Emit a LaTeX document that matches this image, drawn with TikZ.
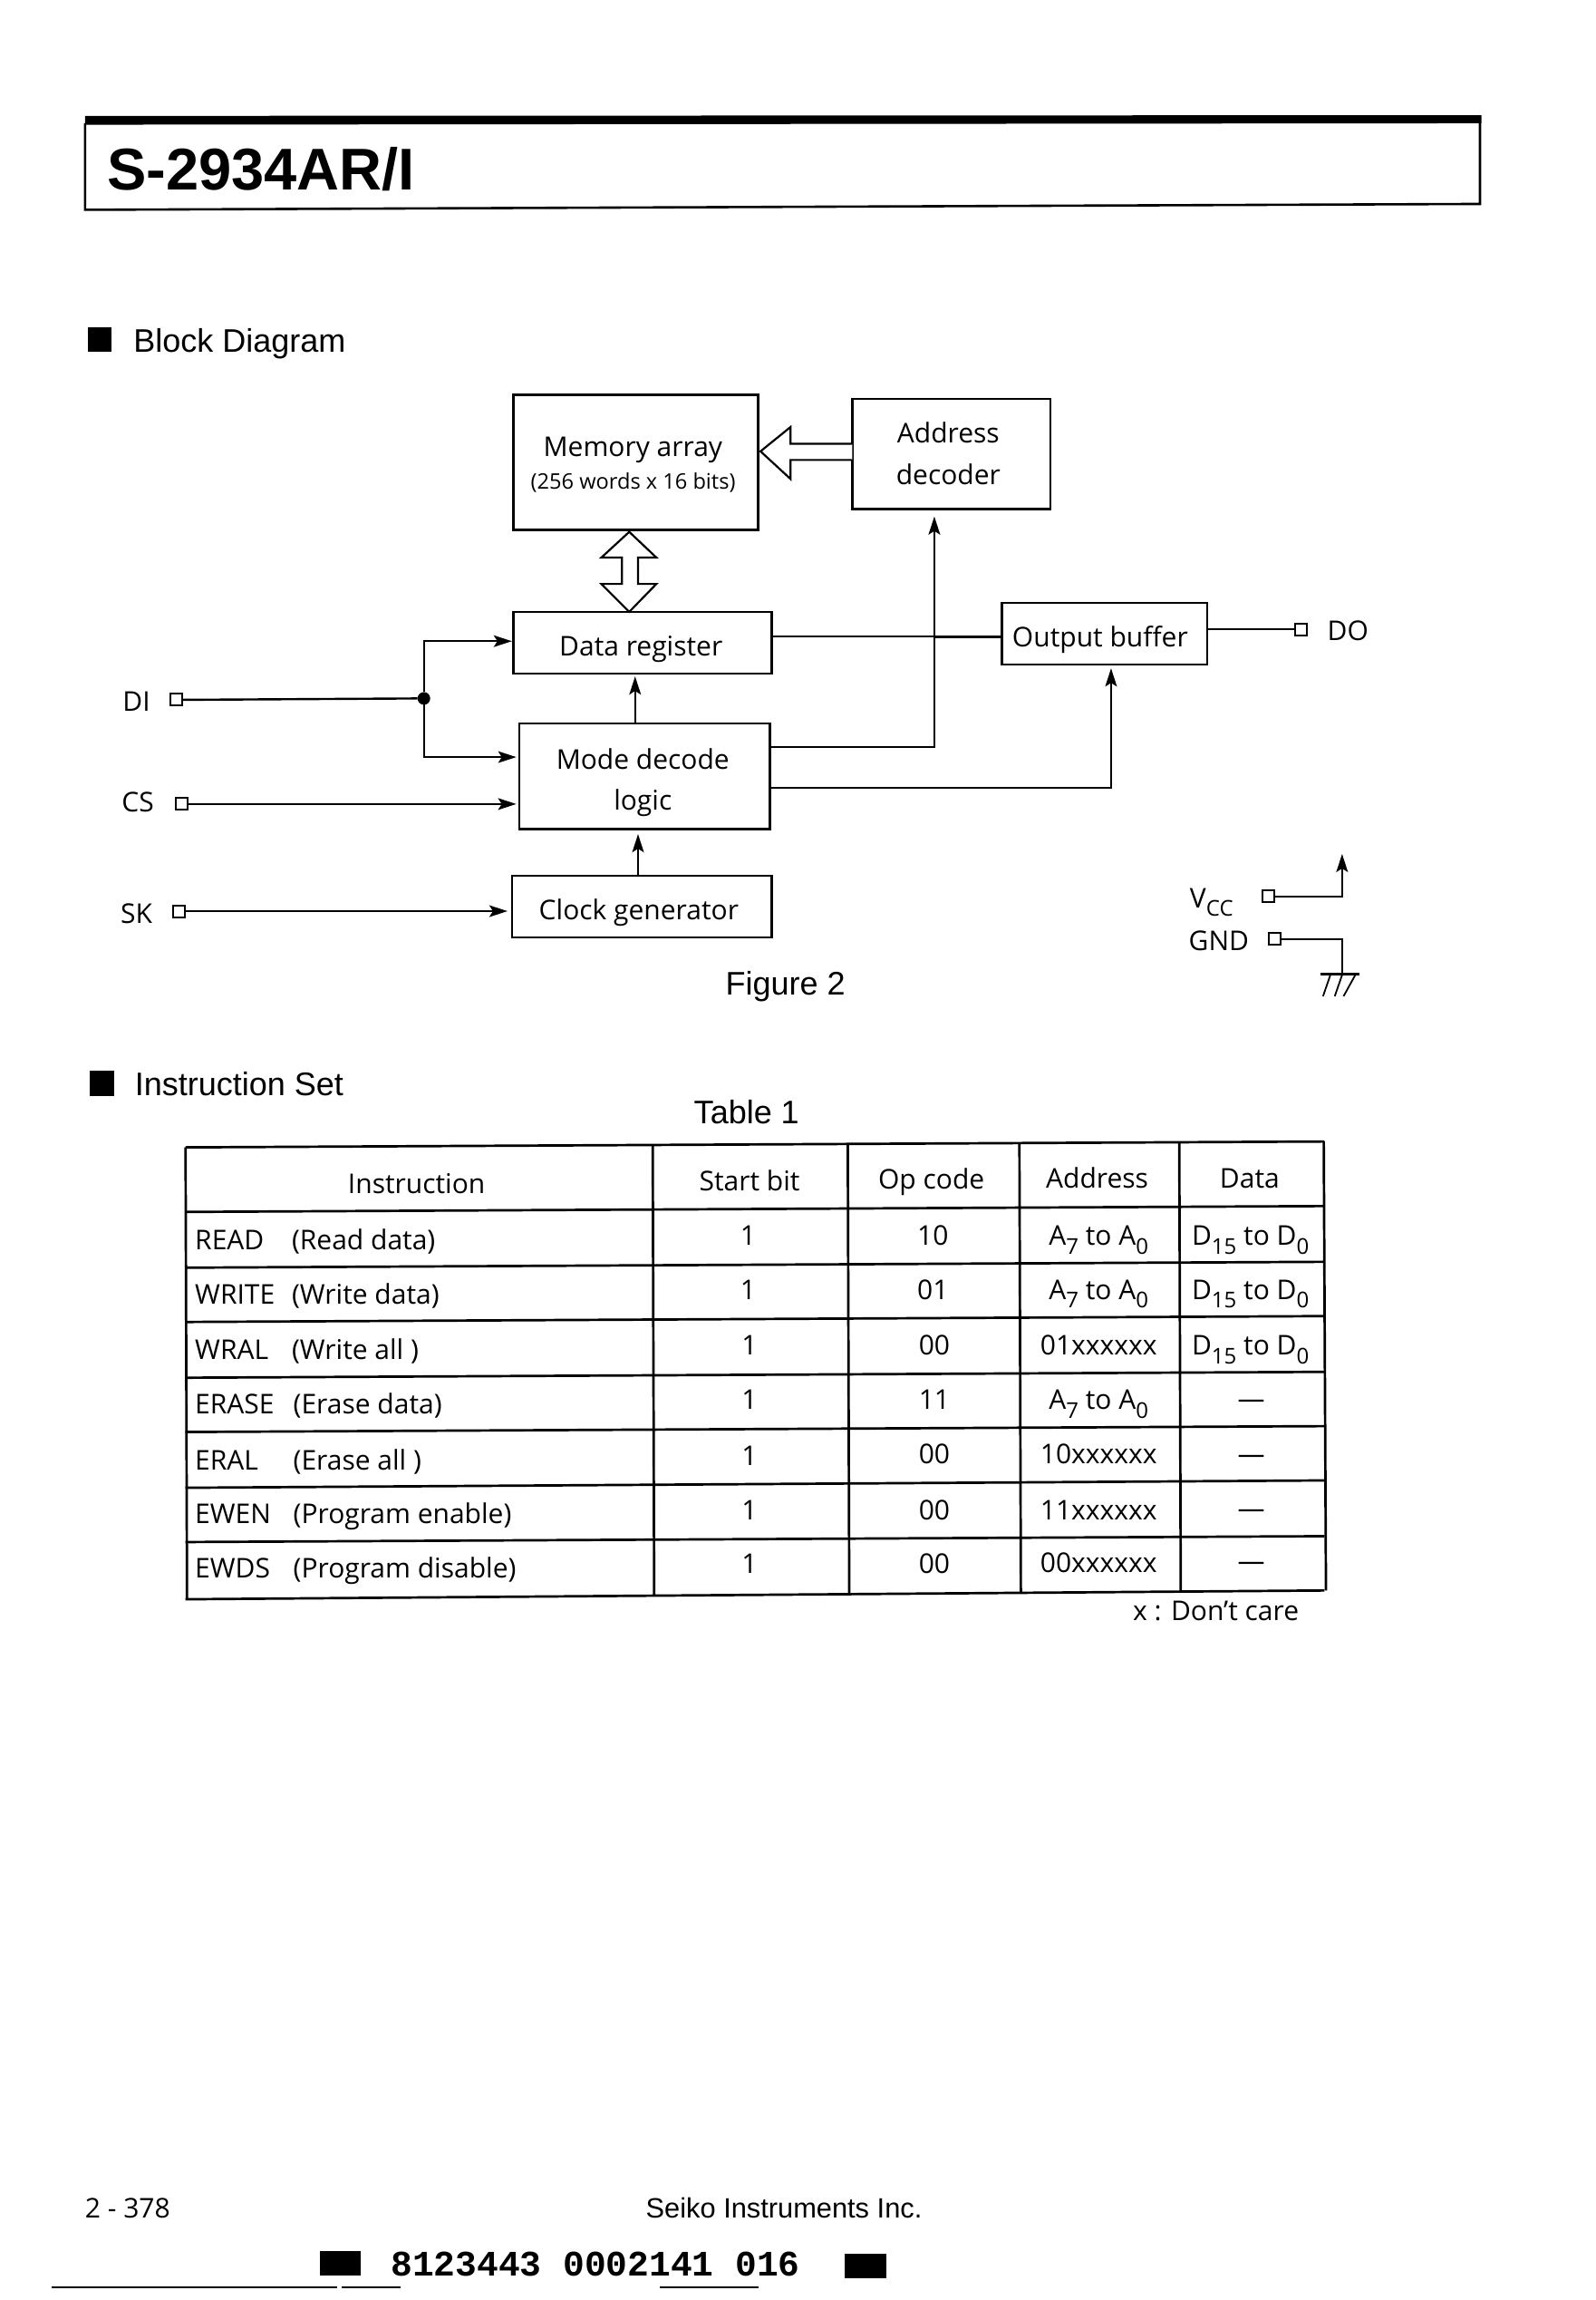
\documentclass[tikz,border=0pt]{standalone}
\usepackage{fontspec}
\setmainfont{Open Sans}
\newfontfamily\helv{Liberation Sans}
\newfontfamily\barfont{Liberation Mono}
\usetikzlibrary{arrows.meta}
\newdimen\uu \uu=0.8092pt
\newcommand{\sbs}[1]{\raisebox{-0.32em}{\fontsize{12}{12}\selectfont #1}}
\newcommand{\mv}[3]{\makebox[0pt]{\hspace*{#1}\raisebox{#2}[0pt][0pt]{#3}}}
\tikzset{
  x=0.8092pt,y=-0.8092pt,
  wire/.style={line width=1.2pt,black},
  thinwire/.style={line width=0.9pt,black},
  arr/.style={wire,-{Stealth[length=10pt,width=6.4pt,inset=2pt]}},
  thinarr/.style={thinwire,-{Stealth[length=10pt,width=6.4pt,inset=2pt]}},
  blk/.style={draw,line width=1.25pt,inner sep=0pt,outer sep=0pt,font=\fontsize{15}{23}\selectfont},
  pinbox/.style={draw,fill=white,line width=1pt,inner sep=0pt,outer sep=0pt,minimum size=6.5pt},
  lbl/.style={inner sep=0pt,outer sep=0pt,font=\fontsize{15}{18}\selectfont,text height=10.7pt,text depth=0pt},
  lft/.style={lbl,anchor=west},
  headtxt/.style={inner sep=0pt,outer sep=0pt,anchor=west,font=\helv\fontsize{18}{20}\selectfont,text height=12.9pt,text depth=0pt},
  hollow/.style={draw,line width=1.1pt,fill=white,line join=miter},
  tabline/.style={line width=1.35pt,black},
  sq/.style={fill=black,draw=none}
}
\begin{document}
\begin{tikzpicture}
\useasboundingbox (0,0) rectangle (1087.5,1567.6);
% header
\fill (58,79) -- (1010,78.5) -- (1010,84) -- (58,85) -- cycle;
\draw[line width=1.3pt] (58,84) -- (58,143) -- (1009,139) -- (1009,84);
\node[inner sep=0pt,outer sep=0pt,anchor=west,font=\helv\bfseries\fontsize{32.5}{36}\selectfont] (title) at (73,115) {S-2934AR/I};
% section marks
\fill[sq] (60,223) rectangle (76,240);
\node[headtxt] (hblock) at (91,232) {Block Diagram};
\fill[sq] (61,730) rectangle (78,747);
\node[headtxt] (hinstr) at (92,739) {Instruction Set};
\node[headtxt,anchor=center] (tabcap) at (509,758) {Table 1};
\node[headtxt,anchor=center] (figcap) at (535.5,670) {Figure 2};
% blocks
\node[blk,minimum width=167\uu,minimum height=92\uu] (mem) at (433.5,315) {\mv{-3.2pt}{3.2pt}{Memory array}\mv{-3pt}{-15pt}{\fontsize{11.8}{14}\selectfont (256 words x 16 bits)}};
\node[blk,minimum width=135\uu,minimum height=75\uu] (adec) at (648.5,309.5) {\mv{-3.2pt}{6pt}{Address}\mv{-3.2pt}{-16.66pt}{decoder}};
\node[blk,minimum width=176\uu,minimum height=42\uu] (dreg) at (438,438) {\mv{-1.6pt}{-7.3pt}{Data register}};
\node[blk,minimum width=171\uu,minimum height=72\uu] (mode) at (439.5,529) {\mv{-2pt}{4pt}{Mode decode}\mv{-2pt}{-18.66pt}{logic}};
\node[blk,minimum width=177\uu,minimum height=42\uu] (clk) at (437.5,618) {\mv{-3.2pt}{-7.3pt}{Clock generator}};
\node[blk,minimum width=140\uu,minimum height=42\uu] (obuf) at (753,432) {\mv{-4.8pt}{-7.3pt}{Output buffer}};
% hollow bus arrows
\draw[hollow] (429,362.5) -- (447.5,380) -- (435,380) -- (435,398) -- (447.5,398) -- (429,417) -- (410,398) -- (424,398) -- (424,380) -- (410,380) -- cycle;
\coordinate (busa) at (581,302.5);
\coordinate (busb) at (581,313.5);
\draw[hollow] (busa) -- (539,302.5) -- (539,291) -- (518.5,307.6) -- (539,326.5) -- (539,313.5) -- (busb);
% pins and labels
\node[pinbox] (pdi) at (120,477) {};
\node[pinbox] (pcs) at (124,548) {};
\node[pinbox] (psk) at (122,621) {};
\node[pinbox] (pdo) at (887,429) {};
\node[pinbox] (pvcc) at (865,611) {};
\node[pinbox] (pgnd) at (869,640) {};
\node[lbl] (ldi) at (93,478) {DI};
\node[lbl] (lcs) at (94,547) {CS};
\node[lbl] (lsk) at (93,623) {SK};
\node[lbl] (ldo) at (919,430) {DO};
\node[lbl] (lvcc) at (826,612) {V\sbs{CC}};
\node[lbl] (lgnd) at (831,641) {GND};
% connectors
\node[circle,fill=black,inner sep=0pt,outer sep=0pt,minimum size=7pt] (dot) at (289,476) {};
\coordinate (tdreg) at (349,437);
\coordinate (tmode) at (352,516);
\coordinate (tcs) at (352,548);
\coordinate (tsk) at (346,621);
\draw[wire] (pdi) -- (dot);
\draw[thinarr] (dot) |- (tdreg);
\draw[thinarr] (dot) |- (tmode);
\draw[arr] (pcs) -- (tcs);
\draw[arr] (psk) -- (tsk);
\coordinate (mdtop) at (433,493);
\coordinate (drbot) at (433,461);
\draw[arr] (mdtop) -- (drbot);
\coordinate (ckup) at (435,597);
\coordinate (mdbot) at (435,568.5);
\draw[arr] (ckup) -- (mdbot);
\coordinate (drout) at (526,434);
\coordinate (obin) at (683,434);
\coordinate (cross) at (637,434);
\draw[thinwire] (drout) -- (cross);
\draw[wire] (cross) -- (obin);
\coordinate (mdr1) at (525,509);
\coordinate (addin) at (637,352);
\draw[arr] (mdr1) -| (addin);
\coordinate (mdr2) at (525,537);
\coordinate (obbot) at (757.5,455.5);
\draw[arr] (mdr2) -| (obbot);
\coordinate (obout) at (823,429);
\draw[thinwire] (obout) -- (pdo);
\coordinate (vcctip) at (915,582);
\draw[arr] (pvcc) -| (vcctip);
\coordinate (gndtop) at (915,664);
\draw[wire] (pgnd) -| (gndtop);
\draw[wire] (900,664) -- (927,664);
\draw[thinwire] (907,664.5) -- (902,679);
\draw[thinwire] (915,664.5) -- (910,679);
\draw[thinwire] (924,664.5) -- (916,679);
% table lines
\foreach \yl/\yr in {782/778,826/822,864/860,901/897,939/935,976/972,1014/1009,1051/1047,1090/1084}
  \draw[tabline] (126.5,\yl) -- (903,\yr);
\draw[tabline] (126.5,782) -- (127.5,1090);
\draw[tabline] (445,780) -- (446,1088);
\draw[tabline] (578,779.5) -- (579,1087);
\draw[tabline] (695,779) -- (696,1086);
\draw[tabline] (804,778.5) -- (805,1085);
\draw[tabline] (902.5,778) -- (904,1084);
% table heading
\node[lbl] (hi) at (284,807) {Instruction};
\node[lbl] (hs) at (511,805) {Start bit};
\node[lbl] (ho) at (635,804) {Op code};
\node[lbl] (ha) at (748,803) {Address};
\node[lbl] (hd) at (852,803) {Data};
% table rows
\node[lft] (c1) at (133,845) {READ};   \node[lft] (n1) at (199,845) {(Read data)};
\node[lft] (c2) at (133,882) {WRITE};  \node[lft] (n2) at (199,882) {(Write data)};
\node[lft] (c3) at (133,920) {WRAL};   \node[lft] (n3) at (199,920) {(Write all )};
\node[lft] (c4) at (133,957) {ERASE};  \node[lft] (n4) at (200,957) {(Erase data)};
\node[lft] (c5) at (133,995) {ERAL};   \node[lft] (n5) at (200,995) {(Erase all )};
\node[lft] (c6) at (133,1032) {EWEN};  \node[lft] (n6) at (200,1032) {(Program enable)};
\node[lft] (c7) at (133,1069) {EWDS};  \node[lft] (n7) at (200,1069) {(Program disable)};
\foreach \i/\x/\y in {1/510/842,2/510/879,3/511/917,4/511/954,5/511/992,6/511/1029,7/511/1066}
  \node[lbl] (s\i) at (\x,\y) {1};
\node[lbl] (o1) at (636,842) {10};
\node[lbl] (o2) at (636,879) {01};
\node[lbl] (o3) at (637,917) {00};
\node[lbl] (o4) at (637,954) {11};
\node[lbl] (o5) at (637,991) {00};
\node[lbl] (o6) at (637,1029) {00};
\node[lbl] (o7) at (637,1066) {00};
\node[lbl] (a1) at (749,842) {A\sbs{7} to A\sbs{0}};
\node[lbl] (a2) at (749,879) {A\sbs{7} to A\sbs{0}};
\node[lbl] (a3) at (749,917) {01xxxxxx};
\node[lbl] (a4) at (749,954) {A\sbs{7} to A\sbs{0}};
\node[lbl] (a5) at (749,991) {10xxxxxx};
\node[lbl] (a6) at (749,1029) {11xxxxxx};
\node[lbl] (a7) at (749,1065) {00xxxxxx};
\node[lbl] (d1) at (852.5,842) {D\sbs{15} to D\sbs{0}};
\node[lbl] (d2) at (852.5,879) {D\sbs{15} to D\sbs{0}};
\node[lbl] (d3) at (852.5,917) {D\sbs{15} to D\sbs{0}};
\node[lbl] (d4) at (853,953) {—};
\node[lbl] (d5) at (853,991) {—};
\node[lbl] (d6) at (853,1028) {—};
\node[lbl] (d7) at (853,1064) {—};
\node[lbl] (note) at (829,1098) {x : Don't care};
% footer
\node[lft] (page) at (58,1505) {2 - 378};
\node[headtxt,anchor=center,font=\helv\fontsize{15.4}{18}\selectfont,text height=11pt] (seiko) at (534.5,1505) {Seiko Instruments Inc.};
\fill[sq] (218,1534) rectangle (246,1551);
\fill[sq] (576,1536) rectangle (604,1553);
\node[inner sep=0pt,outer sep=0pt,font=\barfont\bfseries\fontsize{19.8}{22}\selectfont] (code) at (406,1543) {8123443 0002141 016};
\draw[thinwire] (35,1559) -- (230,1559);
\draw[thinwire] (233,1559) -- (273,1559);
\draw[thinwire] (450,1559) -- (517,1559);
\end{tikzpicture}
\end{document}
